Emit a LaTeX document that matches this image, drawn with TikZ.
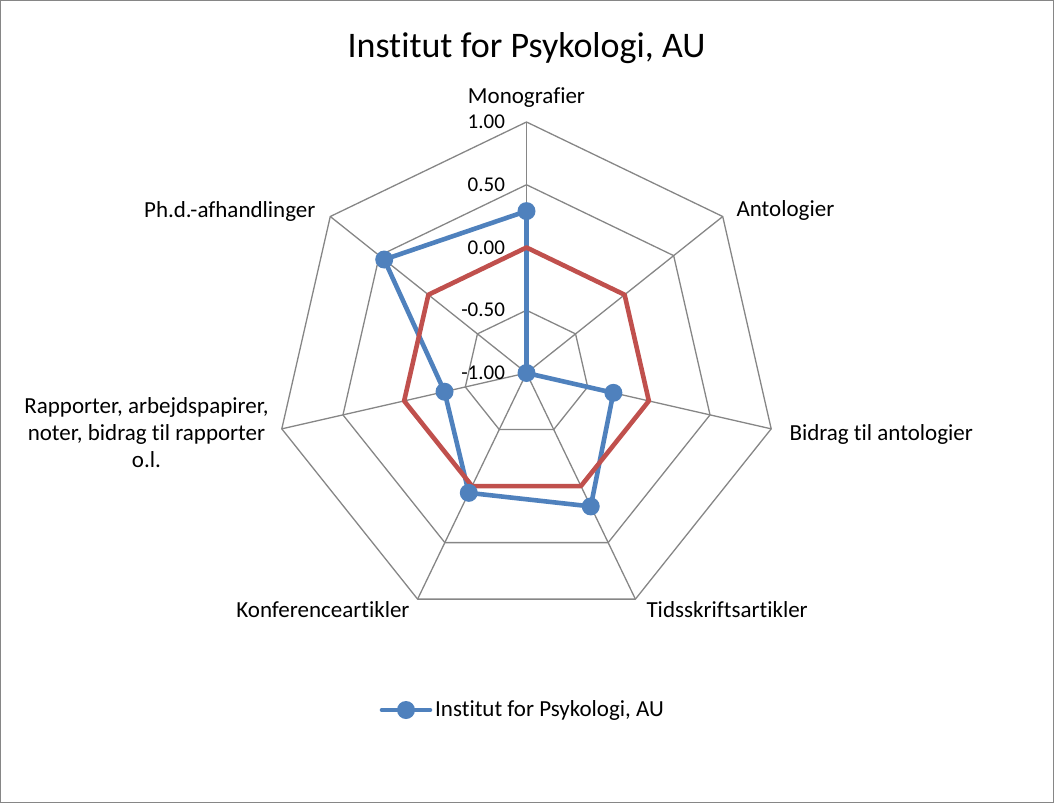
\documentclass[tikz,border=0pt]{standalone}
\usepackage{fontspec}
\setmainfont{Carlito}[Ligatures=NoCommon]
\usetikzlibrary{calc}

\definecolor{seriesblue}{HTML}{4F81BD}
\definecolor{seriesred}{HTML}{C0504D}
\definecolor{gridgray}{HTML}{868686}

\newcommand{\ringstep}{62.75}

\begin{document}
\begin{tikzpicture}[x=1pt,y=1pt,
  grid line/.style={draw=gridgray,line width=1.3pt},
  series line/.style={line width=4.6pt,line join=round,line cap=round},
  marker/.style={circle,fill=seriesblue,inner sep=0pt,minimum size=18pt},
  axis label/.style={font=\fontsize{23}{27}\selectfont},
  tick label/.style={font=\fontsize{21}{25}\selectfont,anchor=east}]

  \useasboundingbox (-526.5,-430) rectangle (527.5,373);
  \draw[gridgray,line width=1.5pt] (-525.75,-429.25) rectangle (526.75,372.25);

  % Title

  \node[font=\fontsize{36}{43}\selectfont,anchor=base] (title) at (0,315) {Institut for Psykologi, AU};

  % Grid

  \coordinate (centre) at (0,0);
  \foreach \k in {0,...,6}
    \coordinate (ax\k) at ({90-\k*360/7}:{4*\ringstep});
  \foreach \r in {1,2,3,4}
    \draw[grid line] (90:{\r*\ringstep})
      \foreach \k in {1,...,6} { -- ({90-\k*360/7}:{\r*\ringstep}) } -- cycle;
  \foreach \k in {0,...,6}
    \draw[grid line] (centre) -- (ax\k);

  \foreach \t [count=\i from 0] in {-1.00,-0.50,0.00,0.50,1.00}
    \node[tick label] (tick\i) at (-18,{\i*\ringstep}) {\t};

  % Axis labels

  \node[axis label,anchor=base] (mono) at (0,269) {Monografier};
  \node[axis label,anchor=base west] (anto) at (206.5,156) {Antologier};
  \node[axis label,anchor=base west] (bidr) at (259.5,-67) {Bidrag til antologier};
  \node[axis label,anchor=base west] (tids) at (116.5,-244) {Tidsskriftsartikler};
  \node[axis label,anchor=base east] (konf) at (-113.5,-244) {Konferenceartikler};
  \node[axis label,align=center] (rapp) at (-380,-60)
    {Rapporter, arbejdspapirer,\\noter, bidrag til rapporter\\o.l.};
  \node[axis label,anchor=base east] (phd) at (-207.5,155) {Ph.d.-afhandlinger};

  % Series

  \foreach \k in {0,...,6}
    \coordinate (zero\k) at ({90-\k*360/7}:{2*\ringstep});
  \foreach \v [count=\k from 0] in {0.29,-1,-0.29,0.18,0.06,-0.33,0.45}
    \coordinate (pt\k) at ({90-\k*360/7}:{(\v+1)*2*\ringstep});

  \draw[series line,seriesblue] (pt0) -- (pt1) -- (pt2) -- (pt3) -- (pt4) -- (pt5) -- (pt6) -- cycle;
  \draw[series line,seriesred] (zero0) -- (zero1) -- (zero2) -- (zero3) -- (zero4) -- (zero5) -- (zero6) -- cycle;
  \foreach \k in {0,...,6}
    \node[marker] (dot\k) at (pt\k) {};

  % Legend

  \coordinate (leg-a) at (-144.5,-337);
  \coordinate (leg-b) at (-96.5,-337);
  \draw[series line,seriesblue] (leg-a) -- (leg-b);
  \node[marker] (legdot) at ($(leg-a)!0.5!(leg-b)$) {};
  \node[axis label,anchor=west,inner sep=0pt] (legtext) at (-91.5,-337) {Institut for Psykologi, AU};
\end{tikzpicture}
\end{document}
